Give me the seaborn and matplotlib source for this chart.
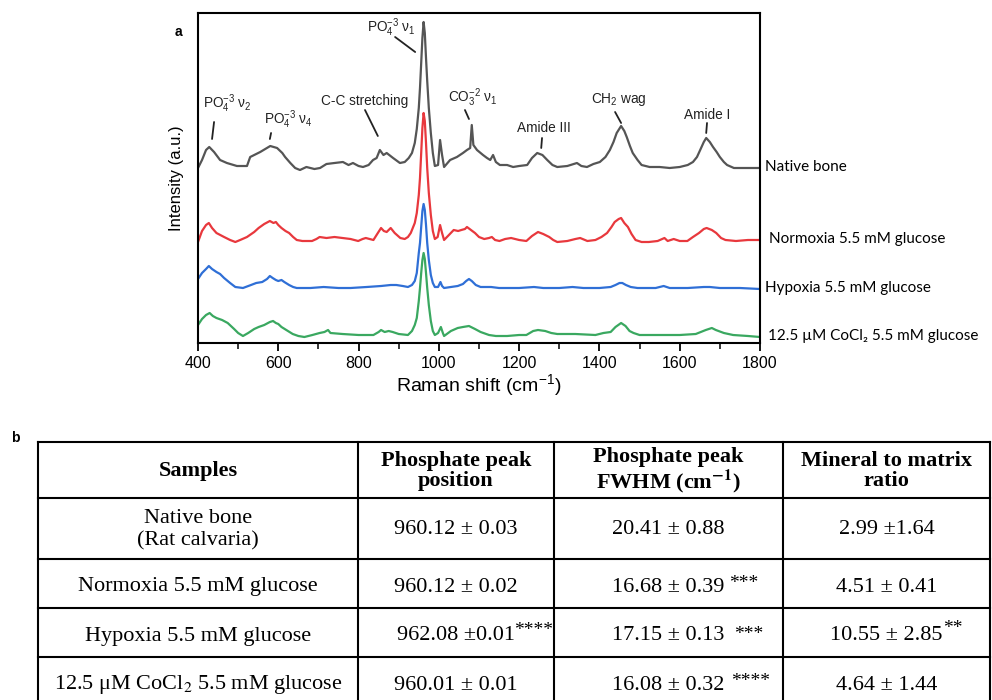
import numpy as np
import pandas as pd
import matplotlib
matplotlib.use("Agg")
import matplotlib.pyplot as plt
import matplotlib.transforms as mtransforms
from matplotlib.ticker import MultipleLocator
import seaborn as sns

# ---------------- data ----------------
native_wn = [400, 410, 420, 428, 440, 455, 472, 497, 522, 530, 555, 580, 597, 610, 617, 630, 642, 654, 670, 690,
             704, 720, 740, 761, 775, 786, 800, 811, 825, 836, 845, 853, 862, 870, 886, 903, 915, 925, 933, 940,
             945, 950, 953, 956, 959, 962, 965, 968, 971, 975, 980, 985, 990, 998, 1003, 1008, 1013, 1028, 1045,
             1060, 1070, 1078, 1082, 1086, 1095, 1110, 1120, 1128, 1135, 1142, 1152, 1170, 1185, 1200, 1220, 1232,
             1245, 1258, 1270, 1283, 1295, 1320, 1344, 1355, 1369, 1385, 1401, 1415, 1426, 1435, 1443, 1454, 1462,
             1468, 1476, 1483, 1495, 1505, 1525, 1550, 1575, 1600, 1620, 1633, 1643, 1651, 1660, 1666, 1675, 1683,
             1692, 1700, 1710, 1718, 1735, 1758, 1800]
native_int = [175, 183, 193, 196, 191, 183, 180, 177, 177, 186, 191, 197, 195, 190, 186, 180, 175, 173, 176, 174,
              175, 179, 180, 181, 178, 180, 177, 176, 178, 183, 185, 193, 188, 190, 185, 180, 181, 185, 190, 200,
              214, 235, 255, 280, 305, 321, 310, 285, 262, 235, 210, 190, 177, 178, 203, 188, 176, 183, 186,
              190, 193, 195, 218, 198, 193, 188, 185, 183, 188, 181, 178, 178, 176, 177, 178, 185,
              190, 188, 183, 178, 176, 177, 180, 177, 176, 179, 181, 186, 193, 201, 210, 217, 212,
              206, 197, 190, 183, 178, 176, 176, 175, 176, 178, 181, 186, 193, 201, 205, 201, 196,
              191, 186, 181, 178, 175, 175, 175]

normoxia_wn = [400, 410, 420, 427, 435, 446, 465, 480, 493, 505, 522, 540, 551, 565, 579, 588, 594, 600, 608, 618,
               627, 637, 646, 660, 684, 695, 703, 720, 740, 760, 780, 799, 810, 818, 837, 848, 856, 863, 870, 880,
               890, 904, 915, 923, 930, 940, 945, 950, 953, 956, 959, 962, 965, 968, 971, 975, 980, 985, 990, 997,
               1003, 1008, 1013, 1025, 1037, 1048, 1056, 1065, 1070, 1080, 1090, 1100, 1113, 1125, 1132, 1140,
               1151, 1165, 1180, 1200, 1218, 1232, 1247, 1260, 1275, 1285, 1295, 1320, 1340, 1352, 1370, 1390,
               1405, 1419, 1430, 1438, 1448, 1454, 1462, 1471, 1480, 1490, 1505, 1523, 1545, 1562, 1570, 1585,
               1600, 1619, 1633, 1648, 1660, 1667, 1680, 1691, 1703, 1714, 1740, 1770, 1800]
normoxia_int = [101, 112, 118, 120, 115, 110, 106, 103, 101, 103, 106, 111, 115, 119, 122, 120, 121, 118, 115, 112,
                110, 106, 103, 102, 102, 104, 106, 105, 106, 105, 104, 102, 104, 105, 103, 110, 115, 112, 111, 115,
                110, 105, 104, 106, 110, 120, 130, 148, 165, 190, 215, 230, 222, 200, 175, 150, 128, 112, 104, 106,
                118, 110, 103, 108, 113, 112, 113, 114, 116, 113, 110, 106, 104, 105, 106, 103,
                102, 104, 105, 103, 102, 107, 111, 109, 106, 103, 101, 102, 104, 105, 102, 103,
                106, 110, 116, 121, 124, 125, 120, 116, 109, 103, 101, 101, 102, 105, 102, 104,
                102, 102, 106, 110, 114, 115, 113, 110, 105, 103, 102, 103, 103]

hypoxia_wn = [400, 410, 420, 427, 435, 446, 455, 465, 480, 493, 512, 532, 545, 560, 572, 579, 586, 594, 600, 608,
              615, 627, 637, 646, 680, 713, 750, 780, 820, 856, 880, 894, 910, 923, 933, 940, 945, 950, 953, 956,
              959, 962, 965, 968, 971, 975, 980, 985, 990, 998, 1004, 1008, 1013, 1030, 1047, 1060, 1068, 1075,
              1082, 1092, 1104, 1130, 1150, 1200, 1237, 1260, 1300, 1333, 1360, 1400, 1428, 1440, 1450, 1457,
              1466, 1478, 1495, 1540, 1560, 1575, 1620, 1660, 1675, 1700, 1750, 1800]
hypoxia_int = [64, 70, 74, 77, 74, 71, 69, 65, 60, 56, 55, 58, 60, 61, 64, 67, 65, 63, 62, 63,
               61, 58, 56, 55, 55, 56, 55, 55, 56, 57, 58, 58, 57, 56, 58, 62, 70, 90, 100, 116,
               132, 139, 133, 118, 100, 83, 68, 60, 56, 56, 61, 57, 55, 56, 57, 59, 62, 64,
               62, 58, 56, 56, 55, 55, 56, 55, 55, 56, 55, 55, 56, 58, 60, 60,
               58, 56, 55, 55, 57, 55, 55, 56, 56, 55, 55, 54]

cocl2_wn = [400, 410, 420, 429, 437, 446, 460, 474, 490, 500, 512, 525, 540, 551, 565, 579, 587, 594, 600, 608,
            620, 636, 650, 665, 685, 703, 715, 724, 730, 760, 800, 837, 850, 856, 865, 875, 885, 900, 923, 933,
            940, 945, 950, 953, 956, 959, 962, 965, 968, 971, 975, 980, 985, 990, 998, 1005, 1010, 1013, 1030,
            1047, 1060, 1075, 1090, 1104, 1125, 1142, 1170, 1200, 1218, 1235, 1247, 1265, 1280, 1295, 1340,
            1390, 1410, 1428, 1440, 1454, 1465, 1475, 1485, 1500, 1530, 1562, 1600, 1640, 1665, 1680, 1690,
            1710, 1733, 1770, 1800]
cocl2_int = [18, 24, 28, 30, 27, 25, 23, 20, 14, 10, 7, 10, 14, 16, 18, 21, 22, 20, 19, 16,
             13, 9, 7, 6, 8, 10, 11, 13, 10, 9, 8, 8, 11, 13, 11, 12, 11, 9, 8, 12,
             18, 25, 42, 55, 70, 83, 90, 84, 70, 55, 38, 22, 12, 8, 10, 16, 10, 7, 12,
             15, 16, 17, 14, 11, 8, 7, 7, 8, 8, 12, 13, 12, 10, 9, 9,
             8, 10, 11, 16, 20, 17, 12, 10, 8, 8, 8, 8, 9, 13, 15, 13,
             10, 8, 7, 6]

sample_names = ["Native bone", "Normoxia 5.5 mM glucose", "Hypoxia 5.5 mM glucose",
                "12.5 \u00b5M CoCl\u2082 5.5 mM glucose"]
sample_colors = ["#555555", "#e8383d", "#2f6fd6", "#3aa860"]

peak_labels = [r"PO$_4^{-3}$ ν$_2$", r"PO$_4^{-3}$ ν$_4$", "C-C stretching", r"PO$_4^{-3}$ ν$_1$",
               r"CO$_3^{-2}$ ν$_1$", "Amide III", r"CH$_2$ wag", "Amide I"]

table_header = ["Samples", "Phosphate peak\nposition", "Phosphate peak\nFWHM (cm$^{\\mathbf{-1}}$)",
                "Mineral to matrix\nratio"]
table_samples = ["Native bone\n(Rat calvaria)", "Normoxia 5.5 mM glucose", "Hypoxia 5.5 mM glucose",
                 "12.5 μM CoCl$_2$ 5.5 mM glucose"]
peak_position = ["960.12 ± 0.03", "960.12 ± 0.02", "962.08 ±0.01", "960.01 ± 0.01"]
peak_fwhm = ["20.41 ± 0.88", "16.68 ± 0.39", "17.15 ± 0.13", "16.08 ± 0.32"]
mineral_matrix = ["2.99 ±1.64", "4.51 ± 0.41", "10.55 ± 2.85", "4.64 ± 1.44"]
# significance marks: (row, column, stars)
significance = [(1, 2, "***"), (2, 1, "****"), (2, 2, "***"), (2, 3, "**"), (3, 2, "****")]
# star placement (gap after text in px, height of star top above cap height in px)
star_style = [(4, 2), (-1, 4), (9, 0), (0, 6), (6, 2)]

# ---------------- figure ----------------
sns.set_theme(style="white")
plt.rcParams["font.family"] = ["Liberation Sans", "DejaVu Sans"]
plt.rcParams["mathtext.fontset"] = "custom"
plt.rcParams["mathtext.rm"] = "Liberation Sans"
plt.rcParams["mathtext.it"] = "Liberation Sans:italic"
plt.rcParams["mathtext.bf"] = "Liberation Sans:bold"
plt.rcParams["text.color"] = "black"
plt.rcParams["axes.labelcolor"] = "black"
plt.rcParams["xtick.color"] = "black"

W, H = 992, 700
fig = plt.figure(figsize=(W / 100, H / 100), dpi=100)
ax = fig.add_axes([198 / W, 1 - 343 / H, 562 / W, 330 / H])

frames = []
for name, wn, inten in zip(sample_names,
                           [native_wn, normoxia_wn, hypoxia_wn, cocl2_wn],
                           [native_int, normoxia_int, hypoxia_int, cocl2_int]):
    frames.append(pd.DataFrame({"wn": wn, "intensity": inten, "sample": name}))
df = pd.concat(frames, ignore_index=True)

sns.lineplot(data=df, x="wn", y="intensity", hue="sample", hue_order=sample_names,
             palette=dict(zip(sample_names, sample_colors)), estimator=None, sort=False,
             legend=False, linewidth=1.6, ax=ax)

ax.set_xlim(400, 1800)
ax.set_ylim(0, 330)
ax.set_yticks([])
ax.xaxis.set_major_locator(MultipleLocator(200))
ax.xaxis.set_minor_locator(MultipleLocator(100))
ax.tick_params(axis="x", which="major", direction="out", length=6, width=1.3, labelsize=11.5,
               pad=3, bottom=True)
ax.tick_params(axis="x", which="minor", direction="out", length=4, width=1.1, bottom=True)
for s in ax.spines.values():
    s.set_color("black")
    s.set_linewidth(1.5)
ax.set_xlabel("Raman shift (cm$^{-1}$)", fontsize=14, labelpad=1)
ax.set_ylabel("Intensity (a.u.)", fontsize=12, labelpad=10)

# labels at right of each spectrum
trans = mtransforms.blended_transform_factory(ax.transAxes, ax.transData)
right_x = [1.009, 1.016, 1.009, 1.014]
for name, series, xf in zip(sample_names, [native_int, normoxia_int, hypoxia_int, cocl2_int], right_x):
    ax.text(xf, series[-1] + 1, name, transform=trans, ha="left", va="center", fontsize=11,
            family=["Lato", "DejaVu Sans"], clip_on=False)

# peak annotations: text position and leader line (wn, intensity)
label_pos = [(472, 239), (624, 223), (814, 242), (881, 315), (1085, 245), (1262, 215), (1449, 244), (1668, 228)]
leader = [((440, 221), (435, 204)), ((582, 210), (579, 204)), ((816, 233), (848, 207)),
          ((891, 306), (941, 291)), ((1065, 233), (1075, 224)), ((1257, 205), (1255, 195)),
          ((1439, 231), (1454, 220)), ((1668, 220), (1666, 210))]
for lab, (tx, ty), (p0, p1) in zip(peak_labels, label_pos, leader):
    ax.text(tx, ty, lab, ha="center", va="center", fontsize=9.8, color="#222222")
    ax.plot([p0[0], p1[0]], [p0[1], p1[1]], color="#222222", lw=1.3)

fig.text(178 / W, 1 - 32 / H, "a", fontsize=10, weight="bold", ha="center", va="center")
fig.text(15 / W, 1 - 438 / H, "b", fontsize=10, weight="bold", ha="center", va="center")

# ---------------- table ----------------
tax = fig.add_axes([0, 0, 1, 1])
tax.set_xlim(0, W)
tax.set_ylim(H, 0)
tax.axis("off")

col_edges = [38, 358, 554, 783, 990]
row_edges = [442, 498, 559, 608, 657, 706]
for y in row_edges:
    tax.plot([col_edges[0], col_edges[-1]], [y, y], color="black", lw=1.5, solid_capstyle="projecting")
for x in col_edges:
    tax.plot([x, x], [row_edges[0], row_edges[-1]], color="black", lw=1.5, solid_capstyle="projecting")

serif = ["Liberation Serif", "DejaVu Serif"]
col_centers = [(a + b) / 2 for a, b in zip(col_edges[:-1], col_edges[1:])]
row_centers = [(a + b) / 2 for a, b in zip(row_edges[:-1], row_edges[1:])]

for c, txt in enumerate(table_header):
    tax.text(col_centers[c], row_centers[0] + 1, txt, ha="center", va="center", fontsize=16,
             weight="bold", family=serif, math_fontfamily="stix", linespacing=1.05)

FS = 16
cap_px = 0.66 * FS * 100 / 72
cells = {}
for r in range(4):
    vals = [table_samples[r], peak_position[r], peak_fwhm[r], mineral_matrix[r]]
    for c, txt in enumerate(vals):
        if r == 0:
            t = tax.text(col_centers[c], row_centers[r + 1] + 1, txt, ha="center", va="center",
                         fontsize=FS, family=serif, math_fontfamily="stix", linespacing=1.25)
        else:
            t = tax.text(col_centers[c], row_centers[r + 1] + 8, txt, ha="center", va="baseline",
                         fontsize=FS, family=serif, math_fontfamily="stix")
        cells[(r, c)] = t

renderer = fig.canvas.get_renderer()
SF = 14
star_top = 0.68 * SF * 100 / 72
for (r, c, stars), (gap, above) in zip(significance, star_style):
    bb = cells[(r, c)].get_window_extent(renderer)
    baseline = row_centers[r + 1] + 8
    cap_top = baseline - cap_px
    tax.text(bb.x1 + gap, cap_top - above + star_top, stars, ha="left", va="baseline",
             fontsize=SF, family=serif)

fig.savefig("out.png", dpi=100)
